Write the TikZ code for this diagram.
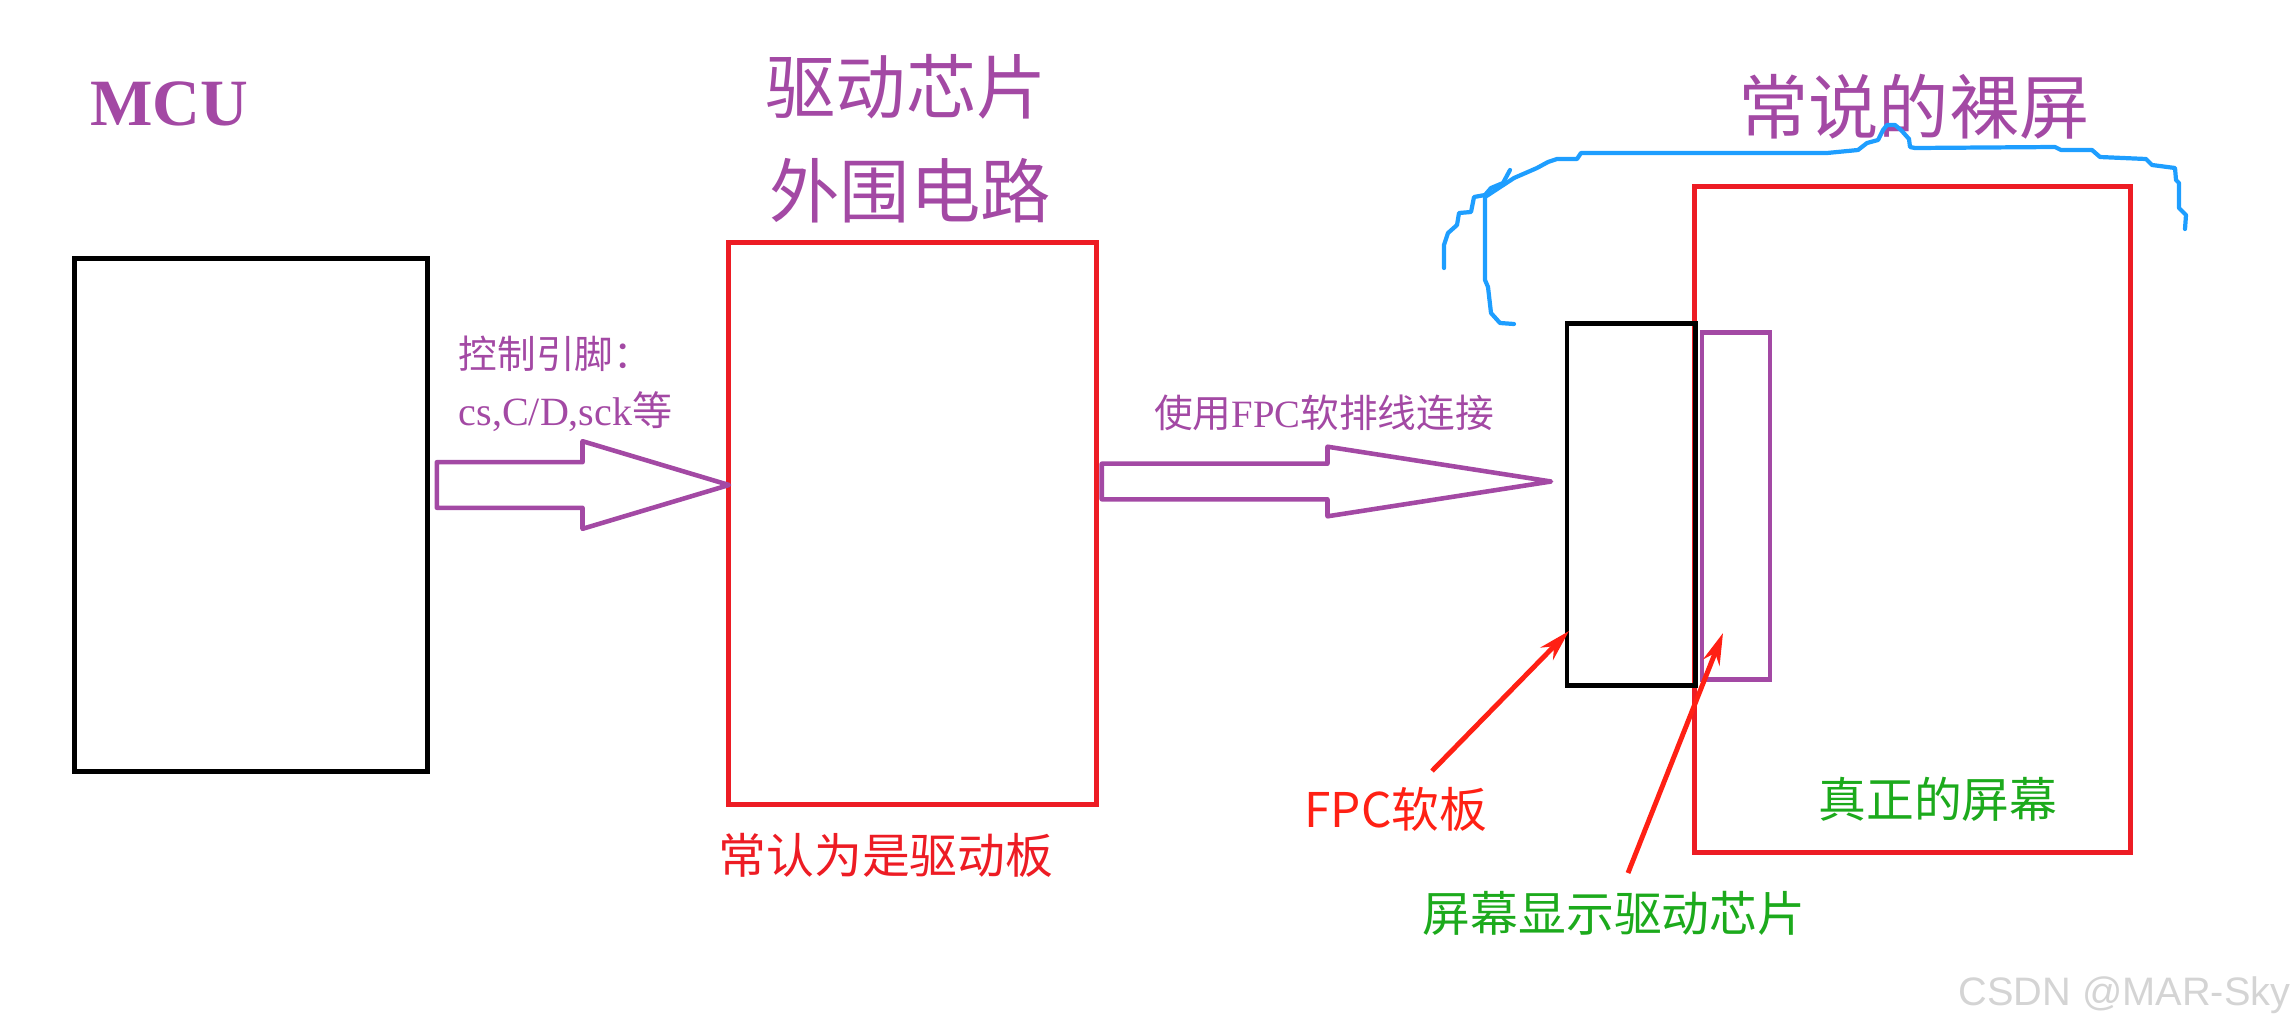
\documentclass[tikz,border=0pt]{standalone}
\usepackage{fontspec}
\setmainfont{Liberation Serif}
\newfontfamily\cjk{Noto Sans CJK SC}
\newfontfamily\wmfont{Liberation Sans}
\usetikzlibrary{shapes.arrows,arrows.meta}
\definecolor{purp}{RGB}{163,73,164}
\definecolor{boxred}{RGB}{237,28,36}
\definecolor{ptrred}{RGB}{255,32,20}
\definecolor{txtgreen}{RGB}{28,170,28}
\definecolor{braceblue}{RGB}{30,158,255}
\begin{document}
\begin{tikzpicture}[x=0.01cm,y=-0.01cm,>=Stealth,
    box/.style={draw,line width=1.4pt,inner sep=0pt},
    bigarrow/.style={single arrow,draw=purp,line width=1.3pt,line join=round,outer sep=0pt,anchor=tip},
    purtxt/.style={text=purp,inner sep=0pt,anchor=base},
    note/.style={font=\cjk\fontsize{13.6}{16}\selectfont,inner sep=0pt,anchor=base},
    pointer/.style={-{Stealth[length=9pt,width=5pt]},ptrred,line width=1.4pt},
    brace/.style={braceblue,line width=1.2pt,line join=round,line cap=round}]
\useasboundingbox (0,0) rectangle (2293,1030);
% boxes
\node[box,minimum width=3.52cm,minimum height=5.12cm] (mcu) at (251,515) {};
\node[box,draw=boxred,minimum width=3.67cm,minimum height=5.61cm] (board) at (912.5,523.5) {};
\node[box,draw=boxred,minimum width=4.35cm,minimum height=6.65cm] (screen) at (1912.5,519.5) {};
\node[box,minimum width=1.28cm,minimum height=3.61cm] (fpc) at (1631,504.5) {};
\node[box,draw=purp,minimum width=0.68cm,minimum height=3.46cm] (ic) at (1736,506) {};
% block arrows
\node[bigarrow,inner sep=0.205cm,minimum height=2.92cm,single arrow head extend=0.21cm,
      single arrow tip angle=33.3] (arrA) at (729,485) {};
\node[bigarrow,inner sep=0.155cm,minimum height=4.49cm,single arrow head extend=0.17cm,
      single arrow tip angle=17.7] (arrB) at (1551,481.5) {};
% titles
\node[purtxt,font=\bfseries\fontsize{18.8}{24}\selectfont] (mcutxt) at (169,125) {MCU};
\node[purtxt,font=\cjk\fontsize{20}{24}\selectfont] (drvA) at (906,113) {驱动芯片};
\node[purtxt,font=\cjk\fontsize{20}{24}\selectfont] (drvB) at (910,217) {外围电路};
\node[purtxt,font=\cjk\fontsize{20}{24}\selectfont] (bare) at (1914,133) {常说的裸屏};
\node[purtxt,anchor=base west,font=\cjk\fontsize{11}{13}\selectfont] (pinsA) at (458,368) {控制引脚：};
\node[purtxt,anchor=base west,font=\fontsize{11.4}{13}\selectfont] (pinsB) at (458,425) {cs,C/D,sck{\cjk 等}};
\node[purtxt,font=\fontsize{11}{13}\selectfont] (fpcline) at (1324,427) {{\cjk 使用}FPC{\cjk 软排线连接}};
% notes
\node[note,text=boxred] (boardtxt) at (886,873) {常认为是驱动板};
\node[note,text=txtgreen] (screentxt) at (1938,817) {真正的屏幕};
\node[note,text=ptrred] (fpctxt) at (1396,827) {FPC软板};
\node[note,text=txtgreen] (ictxt) at (1614,931) {屏幕显示驱动芯片};
\node[anchor=base east,inner sep=0pt,text=black!17,font=\wmfont\fontsize{11.3}{13}\selectfont] (wm) at (2291,1005) {CSDN @MAR-Sky};
% hand drawn brace
\draw[brace] plot coordinates {(1444,268) (1444,245) (1448,233) (1457,225) (1459,213) (1471,212)
  (1474,197) (1485,195) (1491,188) (1503,183) (1510,170)};
\draw[brace] plot coordinates {(1514,324) (1500,323) (1491,313) (1488,287) (1485,280) (1485,197)
  (1514,178) (1537,168) (1548,162) (1557,159) (1577,159) (1581,153) (1827,153) (1858,150)
  (1867,143) (1878,140) (1883,130) (1887,125) (1895,125) (1901,130) (1909,139) (1910,147)
  (1915,148) (2055,147) (2061,150) (2092,150) (2100,157) (2146,159) (2152,165) (2175,168)
  (2176,180) (2179,183) (2179,208) (2186,215) (2185,229)};
% pointers
\coordinate (ptrA) at (1432,771);
\coordinate (tipA) at (1569,631);
\coordinate (ptrB) at (1628,873);
\coordinate (tipB) at (1723,633);
\draw[pointer] (ptrA) -- (tipA);
\draw[pointer] (ptrB) -- (tipB);
\end{tikzpicture}
\end{document}
